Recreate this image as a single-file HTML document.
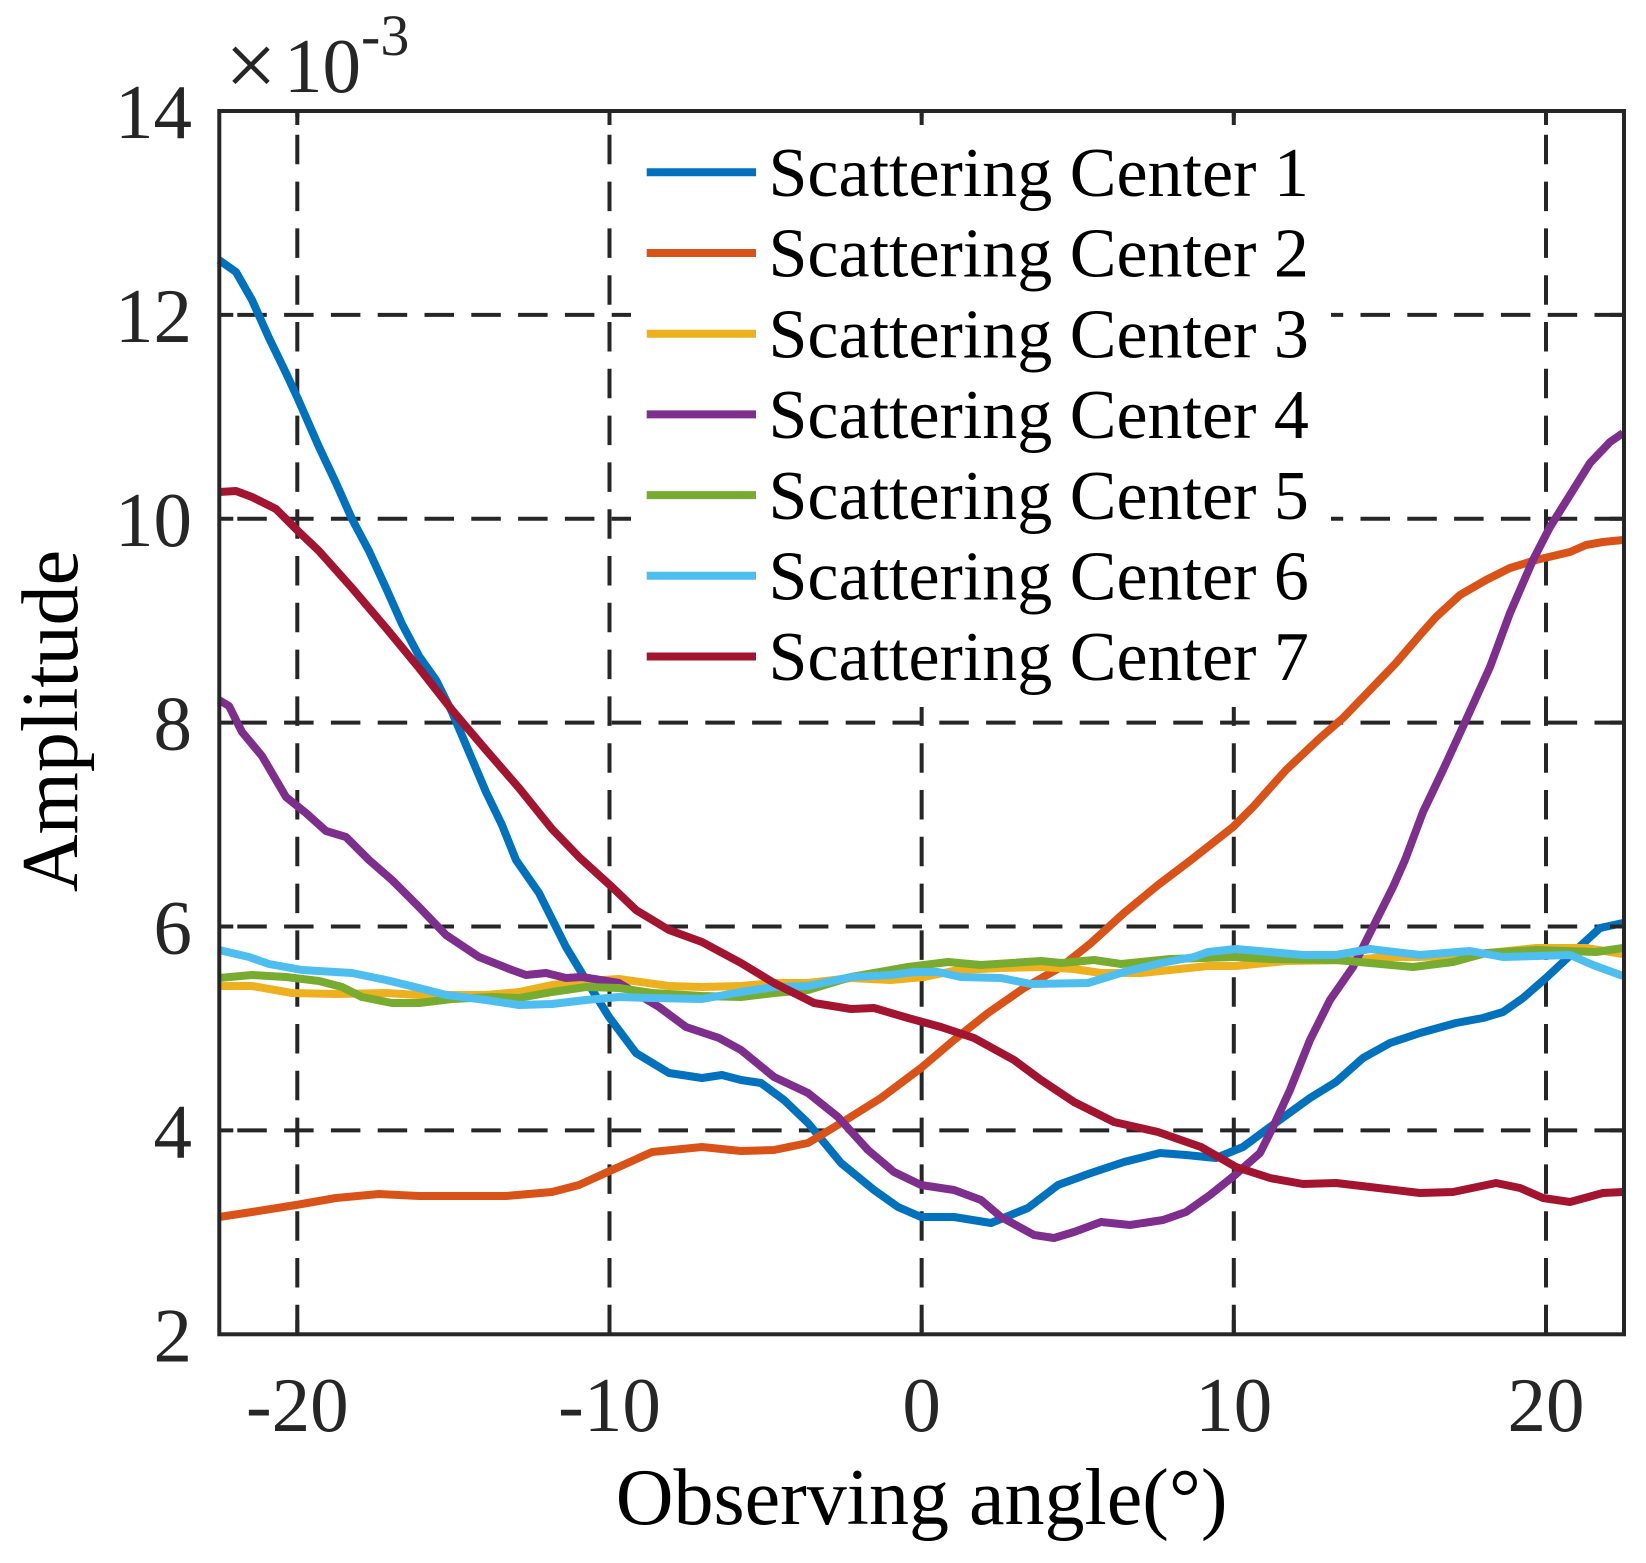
<!DOCTYPE html>
<html>
<head>
<meta charset="utf-8">
<style>
html,body{margin:0;padding:0;background:#fff}
svg{display:block}
</style>
</head>
<body>
<svg width="1646" height="1563" viewBox="0 0 1646 1563" xmlns="http://www.w3.org/2000/svg">
<rect x="0" y="0" width="1646" height="1563" fill="#fff"/>

<!-- grid -->
<g stroke="#262626" stroke-width="4" stroke-dasharray="29.5 17.3" fill="none">
<path d="M1624 314.9H219.3"/>
<path d="M1624 518.8H219.3"/>
<path d="M1624 722.6H219.3"/>
<path d="M1624 926.5H219.3"/>
<path d="M1624 1130.4H219.3"/>
<path d="M297.3 1334.3V111"/>
<path d="M609.5 1334.3V111"/>
<path d="M921.65 1334.3V111"/>
<path d="M1233.8 1334.3V111"/>
<path d="M1546 1334.3V111"/>
</g>

<!-- series -->
<g fill="none" stroke-width="8" stroke-linejoin="round" stroke-linecap="butt">
<polyline stroke="#0072BD" points="219,260 236,272 252,300 269,338 286,373 298,399 319,447 336,483 352,519 369,551 386,588 402,624 419,656 436,680 452,712 469,752 486,792 502,825 516,860 539,893 566,947 586,980 609,1017 636,1053 669,1073 702,1078 722,1075 741,1080 761,1083 784,1100 808,1123 841,1163 874,1190 898,1207 921,1217 954,1217 991,1223 1028,1208 1058,1185 1091,1173 1124,1162 1160,1153 1186,1155 1216,1158 1243,1147 1270,1127 1310,1098 1336,1082 1363,1058 1390,1043 1420,1033 1456,1023 1483,1018 1503,1012 1523,998 1546,978 1576,950 1600,928 1623,923"/>
<polyline stroke="#D95319" points="219,1217 252,1212 296,1205 336,1198 379,1194 419,1196 506,1196 552,1192 579,1185 612,1170 652,1152 702,1147 741,1151 774,1150 808,1143 841,1123 881,1098 921,1068 954,1040 988,1013 1024,988 1061,967 1091,943 1124,913 1158,885 1191,860 1233,827 1253,807 1286,770 1320,738 1343,718 1370,690 1396,663 1420,635 1436,617 1460,595 1486,580 1510,568 1536,560 1570,552 1586,545 1603,542 1623,540"/>
<polyline stroke="#EDB120" points="219,986 252,986 292,993 336,994 386,993 419,995 486,995 519,992 552,985 586,981 619,979 669,986 702,987 741,986 774,983 808,983 851,978 891,980 924,977 958,970 1001,968 1041,967 1074,969 1101,973 1141,973 1170,970 1208,966 1236,966 1286,961 1353,960 1386,957 1420,957 1470,955 1536,948 1586,948 1623,954"/>
<polyline stroke="#7E2F8E" points="219,700 229,706 242,732 262,756 286,797 306,813 326,831 346,837 369,860 392,880 419,907 446,935 479,957 512,970 526,975 546,973 566,978 582,977 619,983 659,1007 686,1027 719,1038 741,1050 774,1077 808,1093 838,1117 868,1150 894,1172 921,1185 954,1190 981,1200 1001,1217 1034,1235 1054,1238 1074,1232 1101,1222 1130,1225 1163,1220 1186,1212 1210,1195 1235,1175 1260,1153 1273,1127 1290,1090 1310,1040 1330,1000 1353,967 1370,933 1393,887 1405,860 1423,812 1443,770 1466,720 1490,667 1510,613 1533,560 1550,527 1570,495 1590,463 1610,442 1623,433"/>
<polyline stroke="#77AC30" points="219,978 252,975 286,977 319,981 342,987 362,997 392,1003 419,1003 452,999 492,997 519,998 552,992 586,987 619,988 652,993 702,996 741,997 774,993 808,990 851,977 908,967 948,962 981,965 1041,961 1061,963 1094,960 1121,964 1170,959 1203,958 1236,957 1270,959 1336,960 1370,963 1413,967 1453,962 1486,953 1536,950 1596,952 1623,948"/>
<polyline stroke="#4DBEEE" points="219,950 249,957 269,964 302,970 352,973 386,980 419,988 446,995 486,1000 519,1005 552,1004 586,1000 619,997 652,998 702,999 741,992 774,987 808,986 851,977 891,975 914,972 938,972 961,977 1001,978 1031,984 1088,983 1124,972 1161,963 1194,957 1208,952 1236,949 1270,952 1303,955 1336,955 1370,949 1420,955 1470,951 1503,957 1570,955 1593,965 1623,976"/>
<polyline stroke="#A2142F" points="219,492 236,491 252,497 276,509 298,531 319,551 352,588 386,628 419,668 452,710 486,750 519,788 552,829 580,858 612,887 636,910 669,930 702,942 741,963 774,983 814,1003 851,1009 874,1008 908,1018 941,1027 974,1038 1014,1060 1041,1080 1074,1102 1114,1122 1158,1132 1201,1147 1236,1167 1270,1178 1303,1184 1336,1183 1370,1187 1420,1193 1453,1192 1496,1183 1520,1188 1543,1198 1570,1202 1603,1193 1623,1192"/>
</g>

<!-- axes box and ticks -->
<g stroke="#262626" stroke-width="4" fill="none">
<rect x="219.3" y="111" width="1404.7" height="1223.3"/>
<path d="M297.3 1334.3v-14M609.5 1334.3v-14M921.65 1334.3v-14M1233.8 1334.3v-14M1546 1334.3v-14"/>
<path d="M297.3 111v14M609.5 111v14M921.65 111v14M1233.8 111v14M1546 111v14"/>
<path d="M219.3 314.9h14M219.3 518.8h14M219.3 722.6h14M219.3 926.5h14M219.3 1130.4h14"/>
<path d="M1624 314.9h-14M1624 518.8h-14M1624 722.6h-14M1624 926.5h-14M1624 1130.4h-14"/>
</g>

<!-- legend -->
<rect x="631" y="125" width="700" height="582" fill="#fff"/>
<g stroke-width="8" fill="none">
<path stroke="#0072BD" d="M646.7 172.3H756"/>
<path stroke="#D95319" d="M646.7 253H756"/>
<path stroke="#EDB120" d="M646.7 333.7H756"/>
<path stroke="#7E2F8E" d="M646.7 414.4H756"/>
<path stroke="#77AC30" d="M646.7 495.1H756"/>
<path stroke="#4DBEEE" d="M646.7 575.8H756"/>
<path stroke="#A2142F" d="M646.7 656.5H756"/>
</g>
<g font-family="'Liberation Serif', serif" font-size="70" fill="#000">
<text x="768.5" y="196">Scattering Center 1</text>
<text x="768.5" y="276.7">Scattering Center 2</text>
<text x="768.5" y="357.4">Scattering Center 3</text>
<text x="768.5" y="438.1">Scattering Center 4</text>
<text x="768.5" y="518.8">Scattering Center 5</text>
<text x="768.5" y="599.5">Scattering Center 6</text>
<text x="768.5" y="680.2">Scattering Center 7</text>
</g>

<!-- tick labels -->
<g font-family="'Liberation Serif', serif" font-size="77" fill="#262626">
<g text-anchor="end">
<text x="192" y="138">14</text>
<text x="192" y="341.9">12</text>
<text x="192" y="545.8">10</text>
<text x="192" y="749.6">8</text>
<text x="192" y="953.5">6</text>
<text x="192" y="1157.4">4</text>
<text x="192" y="1361.3">2</text>
</g>
<g text-anchor="middle">
<text x="297.3" y="1431">-20</text>
<text x="609.5" y="1431">-10</text>
<text x="921.65" y="1431">0</text>
<text x="1233.8" y="1431">10</text>
<text x="1546" y="1431">20</text>
</g>
<text x="225" y="96" font-size="92">×</text>
<text x="284" y="92">10</text>
<text x="361" y="55" font-size="58">-3</text>
</g>

<!-- axis labels -->
<g font-family="'Liberation Serif', serif" font-size="80" fill="#000" text-anchor="middle">
<text x="921.65" y="1524">Observing angle(°)</text>
<text x="0" y="0" transform="translate(77 721) rotate(-90)">Amplitude</text>
</g>
</svg>
</body>
</html>
